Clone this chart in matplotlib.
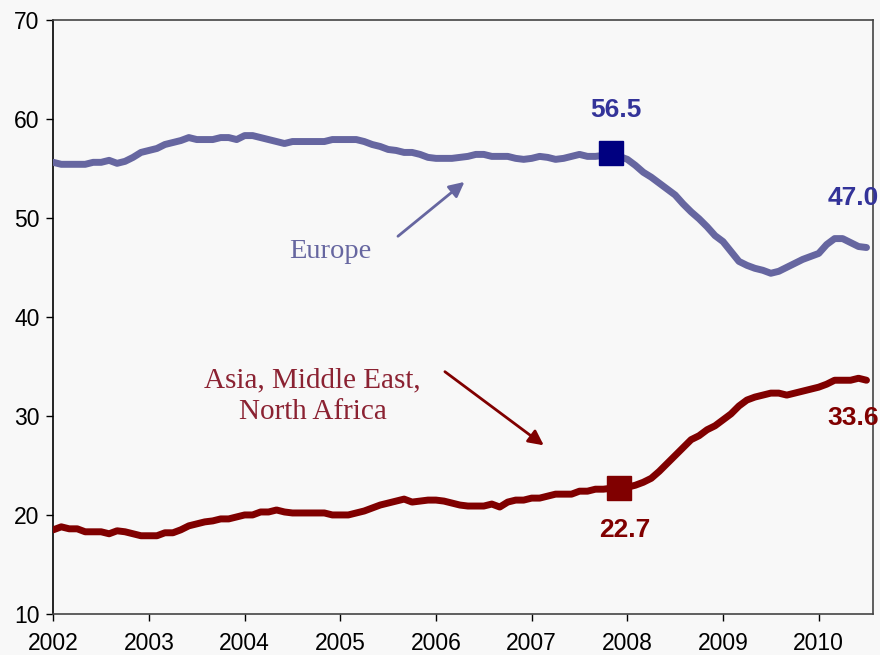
import matplotlib
matplotlib.use("Agg")
import matplotlib.pyplot as plt
import numpy as np

start_year = 2002
europe = [55.6, 55.4, 55.4, 55.4, 55.4, 55.6, 55.6, 55.8, 55.5, 55.7,
          56.1, 56.6, 56.8, 57.0, 57.4, 57.6, 57.8, 58.1, 57.9, 57.9,
          57.9, 58.1, 58.1, 57.9, 58.3, 58.3, 58.1, 57.9, 57.7, 57.5,
          57.7, 57.7, 57.7, 57.7, 57.7, 57.9, 57.9, 57.9, 57.9, 57.7,
          57.4, 57.2, 56.9, 56.8, 56.6, 56.6, 56.4, 56.1, 56.0, 56.0,
          56.0, 56.1, 56.2, 56.4, 56.4, 56.2, 56.2, 56.2, 56.0, 55.9,
          56.0, 56.2, 56.1, 55.9, 56.0, 56.2, 56.4, 56.2, 56.2, 56.3,
          56.5, 56.2, 55.9, 55.3, 54.6, 54.1, 53.5, 52.9, 52.3, 51.4,
          50.6, 49.9, 49.1, 48.2, 47.6, 46.6, 45.6, 45.2, 44.9, 44.7,
          44.4, 44.6, 45.0, 45.4, 45.8, 46.1, 46.4, 47.3, 47.9, 47.9,
          47.5, 47.1, 47.0]
asia = [18.5, 18.8, 18.6, 18.6, 18.3, 18.3, 18.3, 18.1, 18.4, 18.3,
        18.1, 17.9, 17.9, 17.9, 18.2, 18.2, 18.5, 18.9, 19.1, 19.3,
        19.4, 19.6, 19.6, 19.8, 20.0, 20.0, 20.3, 20.3, 20.5, 20.3,
        20.2, 20.2, 20.2, 20.2, 20.2, 20.0, 20.0, 20.0, 20.2, 20.4,
        20.7, 21.0, 21.2, 21.4, 21.6, 21.3, 21.4, 21.5, 21.5, 21.4,
        21.2, 21.0, 20.9, 20.9, 20.9, 21.1, 20.8, 21.3, 21.5, 21.5,
        21.7, 21.7, 21.9, 22.1, 22.1, 22.1, 22.4, 22.4, 22.6, 22.6,
        22.7, 22.7, 22.8, 23.0, 23.3, 23.7, 24.4, 25.2, 26.0, 26.8,
        27.6, 28.0, 28.6, 29.0, 29.6, 30.2, 31.0, 31.6, 31.9, 32.1,
        32.3, 32.3, 32.1, 32.3, 32.5, 32.7, 32.9, 33.2, 33.6, 33.6,
        33.6, 33.8, 33.6]
europe_mark_idx = 70
asia_mark_idx = 71
europe_mark_label = "56.5"
asia_mark_label = "22.7"
europe_end_label = "47.0"
asia_end_label = "33.6"
x_ticks = list(range(2002, 2011))
y_ticks = list(range(10, 71, 10))

months = np.arange(len(europe))
xs = start_year + months / 12.0

bg = "#f8f8f8"
eu_col = "#6666a0"
eu_mark = "#000080"
eu_txt = "#333399"
as_col = "#800000"
as_txt = "#8b2232"

fig = plt.figure(figsize=(8.8, 6.55), dpi=100, facecolor=bg)
ax = fig.add_axes([53.3/880, 1 - 614/655, (873.3-53.3)/880, (614-19.7)/655])
ax.set_facecolor(bg)

ax.plot(xs, europe, color=eu_col, lw=5, solid_capstyle="round", solid_joinstyle="round", zorder=3)
ax.plot(xs, asia, color=as_col, lw=5, solid_capstyle="round", solid_joinstyle="round", zorder=3)
ax.plot(xs[europe_mark_idx], europe[europe_mark_idx], marker="s", ms=17, color=eu_mark, zorder=4)
ax.plot(xs[asia_mark_idx], asia[asia_mark_idx], marker="s", ms=17, color=as_col, zorder=4)

ax.set_xlim(2002, 2010.571)
ax.set_ylim(10, 70)
ax.set_xticks(x_ticks)
ax.set_yticks(y_ticks)
ax.tick_params(axis="both", direction="out", length=5, width=1, labelsize=16.5, colors="#000000")
ax.tick_params(axis="x", pad=8)
ax.tick_params(axis="y", pad=5)
for s in ["top", "right", "bottom"]:
    ax.spines[s].set_color("#444444")
ax.spines["left"].set_color("#000000")
for s in ax.spines.values():
    s.set_linewidth(1.2)

for lab in ax.get_xticklabels() + ax.get_yticklabels():
    lab.set_fontfamily("Liberation Sans")

bold = dict(fontfamily="Liberation Sans", fontweight="bold", fontsize=19, ha="center", va="center", annotation_clip=False)
ax.annotate(europe_mark_label, (2007.88, 60.9), color=eu_txt, **bold)
ax.annotate(europe_end_label, (2010.36, 52.0), color=eu_txt, **bold)
ax.annotate(asia_mark_label, (2007.97, 18.5), color=as_col, **bold)
ax.annotate(asia_end_label, (2010.36, 29.8), color=as_col, **bold)

ax.text(2004.89, 46.6, "Europe", fontfamily="Liberation Serif", fontsize=20.5,
        color=eu_col, ha="center", va="center")
ax.text(2004.71, 32.0, "Asia, Middle East,\nNorth Africa", fontfamily="Liberation Serif",
        fontsize=21, color=as_txt, ha="center", va="center", linespacing=1.25)

ax.annotate("", xy=(2006.32, 53.8), xytext=(2005.58, 47.96),
            arrowprops=dict(arrowstyle="-|>,head_length=0.9,head_width=0.45", color=eu_col, lw=2))
ax.annotate("", xy=(2007.15, 26.86), xytext=(2006.07, 34.63),
            arrowprops=dict(arrowstyle="-|>,head_length=0.9,head_width=0.45", color=as_col, lw=2))

fig.savefig("out.png", dpi=100, facecolor=bg)
